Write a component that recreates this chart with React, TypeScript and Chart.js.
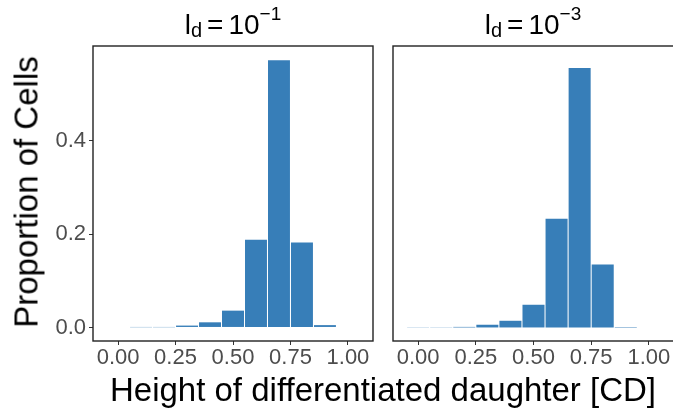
import React, { useEffect, useRef } from "react";
import { Chart, registerables } from "chart.js";

Chart.register(...registerables);

// ---- data ----
const binCentersLeft = [0.1, 0.2, 0.3, 0.4, 0.5, 0.6, 0.7, 0.8, 0.9];
const proportionLeft = [0.0005, 0.0005, 0.004, 0.011, 0.036, 0.188, 0.572, 0.182, 0.005];

const binCentersRight = [0.0, 0.1, 0.2, 0.3, 0.4, 0.5, 0.6, 0.7, 0.8, 0.9];
const proportionRight = [0.0004, 0.0004, 0.0012, 0.0058, 0.0143, 0.0486, 0.2325, 0.5555, 0.1348, 0.001];

const xTicks = [0, 0.25, 0.5, 0.75, 1.0];
const yTicks = [0, 0.2, 0.4];

const panelExponents = ["−1", "−3"];
const yTitle = "Proportion of Cells";
const xTitle = "Height of differentiated daughter [CD]";

const FONT = "'Liberation Sans', Arial, Helvetica, sans-serif";
const BAR_COLOR = "#377EB8";
const X_MIN = -0.109;
const X_MAX = 1.109;
const Y_MIN = -0.029;
const Y_MAX = 0.6026;

const boxPlugin = {
  id: "panelBox",
  afterDatasetsDraw(chart: any) {
    const { ctx, chartArea } = chart;
    ctx.save();
    ctx.strokeStyle = "#222222";
    ctx.lineWidth = 1.4;
    ctx.strokeRect(chartArea.left, chartArea.top, chartArea.right - chartArea.left, chartArea.bottom - chartArea.top);
    ctx.restore();
  },
};

function makeConfig(centers: number[], values: number[], showY: boolean, padLeft: number, padRight: number) {
  return {
    type: "bar" as const,
    data: {
      datasets: [
        {
          data: centers.map((c, i) => ({ x: c, y: values[i] })),
          backgroundColor: BAR_COLOR,
          borderWidth: 0,
          barPercentage: 0.955,
          categoryPercentage: 1,
        },
      ],
    },
    options: {
      responsive: false,
      animation: false as const,
      devicePixelRatio: 1,
      layout: { padding: { top: 46, left: padLeft, right: padRight, bottom: 0 } },
      plugins: { legend: { display: false }, tooltip: { enabled: false }, title: { display: false } },
      scales: {
        x: {
          type: "linear" as const,
          min: X_MIN,
          max: X_MAX,
          offset: false,
          grid: { display: true, drawOnChartArea: false, drawTicks: true, tickLength: 4, color: "#333333", offset: false },
          border: { display: false },
          afterBuildTicks: (s: any) => {
            s.ticks = xTicks.map((v) => ({ value: v }));
          },
          afterFit: (s: any) => {
            s.height = 39;
            s.paddingLeft = 0;
            s.paddingRight = 0;
          },
          ticks: {
            padding: 0,
            maxRotation: 0,
            color: "#4D4D4D",
            font: { family: FONT, size: 22 },
            callback: (v: any) => Number(v).toFixed(2),
          },
        },
        y: {
          type: "linear" as const,
          display: showY,
          min: Y_MIN,
          max: Y_MAX,
          grid: { display: true, drawOnChartArea: false, drawTicks: true, tickLength: 4, color: "#333333" },
          border: { display: false },
          afterBuildTicks: (s: any) => {
            s.ticks = yTicks.map((v) => ({ value: v }));
          },
          afterFit: (s: any) => {
            s.width = showY ? 93 : 0;
            s.paddingTop = 0;
            s.paddingBottom = 0;
          },
          ticks: {
            padding: 3,
            color: "#4D4D4D",
            font: { family: FONT, size: 22 },
            callback: (v: any) => Number(v).toFixed(1),
          },
        },
      },
    },
    plugins: [boxPlugin],
  };
}

function Panel(props: { left: number; width: number; centers: number[]; values: number[]; showY: boolean; padLeft: number; padRight: number }) {
  const ref = useRef<HTMLCanvasElement | null>(null);
  useEffect(() => {
    if (!ref.current) return;
    const chart = new Chart(ref.current, makeConfig(props.centers, props.values, props.showY, props.padLeft, props.padRight) as any);
    return () => chart.destroy();
  }, []);
  return (
    <canvas
      ref={ref}
      width={props.width}
      height={380}
      style={{ position: "absolute", left: props.left, top: 0, width: props.width, height: 380 }}
    />
  );
}

function PanelTitle(props: { center: number; exp: string }) {
  return (
    <div
      style={{
        position: "absolute",
        left: props.center,
        top: 11,
        transform: "translateX(-50%)",
        fontFamily: FONT,
        fontSize: 28,
        lineHeight: "28px",
        whiteSpace: "nowrap",
        color: "#000",
      }}
    >
      l<span style={{ fontSize: 20, position: "relative", top: 3 }}>d</span>
      <span style={{ margin: "0 5px" }}>=</span>10
      <span style={{ fontSize: 19, position: "relative", top: -14 }}>{props.exp}</span>
    </div>
  );
}

export default function App() {
  return (
    <div style={{ position: "absolute", left: 0, top: 0, width: 673, height: 414, background: "#fff", overflow: "hidden" }}>
      <Panel left={0} width={385} centers={binCentersLeft} values={proportionLeft} showY={true} padLeft={0} padRight={12} />
      <Panel left={385} width={289} centers={binCentersRight} values={proportionRight} showY={false} padLeft={8} padRight={0} />
      <PanelTitle center={233} exp={panelExponents[0]} />
      <PanelTitle center={533} exp={panelExponents[1]} />
      <div
        style={{
          position: "absolute",
          left: 26,
          top: 192,
          transform: "translate(-50%, -50%) rotate(-90deg)",
          fontFamily: FONT,
          fontSize: 33,
          lineHeight: "33px",
          whiteSpace: "nowrap",
          color: "#000",
        }}
      >
        {yTitle}
      </div>
      <div
        style={{
          position: "absolute",
          left: 383,
          top: 373,
          transform: "translateX(-50%)",
          fontFamily: FONT,
          fontSize: 33,
          lineHeight: "33px",
          whiteSpace: "nowrap",
          color: "#000",
        }}
      >
        {xTitle}
      </div>
    </div>
  );
}
